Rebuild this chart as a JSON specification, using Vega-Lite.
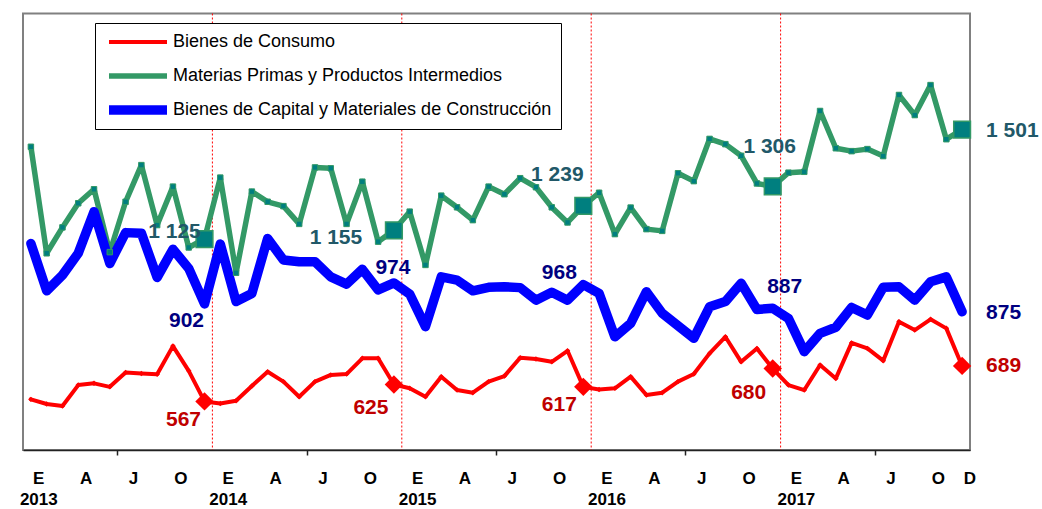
{
  "$schema": "https://vega.github.io/schema/vega-lite/v6.json",
  "width": 947,
  "height": 436.5,
  "autosize": "none",
  "padding": {"left": 23, "top": 13.5, "right": 72, "bottom": 59},
  "config": {
    "view": {"stroke": "#808080", "strokeWidth": 2},
    "locale": {"number": {"decimal": ",", "thousands": " ", "grouping": [3], "currency": ["$", ""]}}
  },
  "datasets": {
    "rows": [
      {"mes":"2013-01","serie":"Bienes de Consumo","valor":574},{"mes":"2013-02","serie":"Bienes de Consumo","valor":558},{"mes":"2013-03","serie":"Bienes de Consumo","valor":551},{"mes":"2013-04","serie":"Bienes de Consumo","valor":623},{"mes":"2013-05","serie":"Bienes de Consumo","valor":629},{"mes":"2013-06","serie":"Bienes de Consumo","valor":617},{"mes":"2013-07","serie":"Bienes de Consumo","valor":666},{"mes":"2013-08","serie":"Bienes de Consumo","valor":663},{"mes":"2013-09","serie":"Bienes de Consumo","valor":660},{"mes":"2013-10","serie":"Bienes de Consumo","valor":757},{"mes":"2013-11","serie":"Bienes de Consumo","valor":672},{"mes":"2013-12","serie":"Bienes de Consumo","valor":567},
      {"mes":"2014-01","serie":"Bienes de Consumo","valor":560},{"mes":"2014-02","serie":"Bienes de Consumo","valor":569},{"mes":"2014-03","serie":"Bienes de Consumo","valor":620},{"mes":"2014-04","serie":"Bienes de Consumo","valor":669},{"mes":"2014-05","serie":"Bienes de Consumo","valor":635},{"mes":"2014-06","serie":"Bienes de Consumo","valor":583},{"mes":"2014-07","serie":"Bienes de Consumo","valor":635},{"mes":"2014-08","serie":"Bienes de Consumo","valor":658},{"mes":"2014-09","serie":"Bienes de Consumo","valor":661},{"mes":"2014-10","serie":"Bienes de Consumo","valor":715},{"mes":"2014-11","serie":"Bienes de Consumo","valor":715},{"mes":"2014-12","serie":"Bienes de Consumo","valor":625},
      {"mes":"2015-01","serie":"Bienes de Consumo","valor":612},{"mes":"2015-02","serie":"Bienes de Consumo","valor":583},{"mes":"2015-03","serie":"Bienes de Consumo","valor":652},{"mes":"2015-04","serie":"Bienes de Consumo","valor":606},{"mes":"2015-05","serie":"Bienes de Consumo","valor":597},{"mes":"2015-06","serie":"Bienes de Consumo","valor":635},{"mes":"2015-07","serie":"Bienes de Consumo","valor":654},{"mes":"2015-08","serie":"Bienes de Consumo","valor":717},{"mes":"2015-09","serie":"Bienes de Consumo","valor":713},{"mes":"2015-10","serie":"Bienes de Consumo","valor":703},{"mes":"2015-11","serie":"Bienes de Consumo","valor":741},{"mes":"2015-12","serie":"Bienes de Consumo","valor":617},
      {"mes":"2016-01","serie":"Bienes de Consumo","valor":608},{"mes":"2016-02","serie":"Bienes de Consumo","valor":612},{"mes":"2016-03","serie":"Bienes de Consumo","valor":652},{"mes":"2016-04","serie":"Bienes de Consumo","valor":589},{"mes":"2016-05","serie":"Bienes de Consumo","valor":597},{"mes":"2016-06","serie":"Bienes de Consumo","valor":635},{"mes":"2016-07","serie":"Bienes de Consumo","valor":661},{"mes":"2016-08","serie":"Bienes de Consumo","valor":732},{"mes":"2016-09","serie":"Bienes de Consumo","valor":789},{"mes":"2016-10","serie":"Bienes de Consumo","valor":703},{"mes":"2016-11","serie":"Bienes de Consumo","valor":749},{"mes":"2016-12","serie":"Bienes de Consumo","valor":680},
      {"mes":"2017-01","serie":"Bienes de Consumo","valor":623},{"mes":"2017-02","serie":"Bienes de Consumo","valor":606},{"mes":"2017-03","serie":"Bienes de Consumo","valor":692},{"mes":"2017-04","serie":"Bienes de Consumo","valor":646},{"mes":"2017-05","serie":"Bienes de Consumo","valor":768},{"mes":"2017-06","serie":"Bienes de Consumo","valor":749},{"mes":"2017-07","serie":"Bienes de Consumo","valor":707},{"mes":"2017-08","serie":"Bienes de Consumo","valor":841},{"mes":"2017-09","serie":"Bienes de Consumo","valor":812},{"mes":"2017-10","serie":"Bienes de Consumo","valor":849},{"mes":"2017-11","serie":"Bienes de Consumo","valor":818},{"mes":"2017-12","serie":"Bienes de Consumo","valor":689},

      {"mes":"2013-01","serie":"Materias Primas y Productos Intermedios","valor":1442},{"mes":"2013-02","serie":"Materias Primas y Productos Intermedios","valor":1076},{"mes":"2013-03","serie":"Materias Primas y Productos Intermedios","valor":1165},{"mes":"2013-04","serie":"Materias Primas y Productos Intermedios","valor":1248},{"mes":"2013-05","serie":"Materias Primas y Productos Intermedios","valor":1296},{"mes":"2013-06","serie":"Materias Primas y Productos Intermedios","valor":1080},{"mes":"2013-07","serie":"Materias Primas y Productos Intermedios","valor":1253},{"mes":"2013-08","serie":"Materias Primas y Productos Intermedios","valor":1379},{"mes":"2013-09","serie":"Materias Primas y Productos Intermedios","valor":1173},{"mes":"2013-10","serie":"Materias Primas y Productos Intermedios","valor":1305},{"mes":"2013-11","serie":"Materias Primas y Productos Intermedios","valor":1096},{"mes":"2013-12","serie":"Materias Primas y Productos Intermedios","valor":1125},
      {"mes":"2014-01","serie":"Materias Primas y Productos Intermedios","valor":1336},{"mes":"2014-02","serie":"Materias Primas y Productos Intermedios","valor":1009},{"mes":"2014-03","serie":"Materias Primas y Productos Intermedios","valor":1288},{"mes":"2014-04","serie":"Materias Primas y Productos Intermedios","valor":1253},{"mes":"2014-05","serie":"Materias Primas y Productos Intermedios","valor":1238},{"mes":"2014-06","serie":"Materias Primas y Productos Intermedios","valor":1177},{"mes":"2014-07","serie":"Materias Primas y Productos Intermedios","valor":1371},{"mes":"2014-08","serie":"Materias Primas y Productos Intermedios","valor":1368},{"mes":"2014-09","serie":"Materias Primas y Productos Intermedios","valor":1177},{"mes":"2014-10","serie":"Materias Primas y Productos Intermedios","valor":1322},{"mes":"2014-11","serie":"Materias Primas y Productos Intermedios","valor":1116},{"mes":"2014-12","serie":"Materias Primas y Productos Intermedios","valor":1155},
      {"mes":"2015-01","serie":"Materias Primas y Productos Intermedios","valor":1219},{"mes":"2015-02","serie":"Materias Primas y Productos Intermedios","valor":1036},{"mes":"2015-03","serie":"Materias Primas y Productos Intermedios","valor":1274},{"mes":"2015-04","serie":"Materias Primas y Productos Intermedios","valor":1234},{"mes":"2015-05","serie":"Materias Primas y Productos Intermedios","valor":1190},{"mes":"2015-06","serie":"Materias Primas y Productos Intermedios","valor":1305},{"mes":"2015-07","serie":"Materias Primas y Productos Intermedios","valor":1279},{"mes":"2015-08","serie":"Materias Primas y Productos Intermedios","valor":1334},{"mes":"2015-09","serie":"Materias Primas y Productos Intermedios","valor":1303},{"mes":"2015-10","serie":"Materias Primas y Productos Intermedios","valor":1234},{"mes":"2015-11","serie":"Materias Primas y Productos Intermedios","valor":1182},{"mes":"2015-12","serie":"Materias Primas y Productos Intermedios","valor":1239},
      {"mes":"2016-01","serie":"Materias Primas y Productos Intermedios","valor":1284},{"mes":"2016-02","serie":"Materias Primas y Productos Intermedios","valor":1142},{"mes":"2016-03","serie":"Materias Primas y Productos Intermedios","valor":1233},{"mes":"2016-04","serie":"Materias Primas y Productos Intermedios","valor":1159},{"mes":"2016-05","serie":"Materias Primas y Productos Intermedios","valor":1153},{"mes":"2016-06","serie":"Materias Primas y Productos Intermedios","valor":1351},{"mes":"2016-07","serie":"Materias Primas y Productos Intermedios","valor":1324},{"mes":"2016-08","serie":"Materias Primas y Productos Intermedios","valor":1469},{"mes":"2016-09","serie":"Materias Primas y Productos Intermedios","valor":1451},{"mes":"2016-10","serie":"Materias Primas y Productos Intermedios","valor":1411},{"mes":"2016-11","serie":"Materias Primas y Productos Intermedios","valor":1316},{"mes":"2016-12","serie":"Materias Primas y Productos Intermedios","valor":1306},
      {"mes":"2017-01","serie":"Materias Primas y Productos Intermedios","valor":1353},{"mes":"2017-02","serie":"Materias Primas y Productos Intermedios","valor":1356},{"mes":"2017-03","serie":"Materias Primas y Productos Intermedios","valor":1565},{"mes":"2017-04","serie":"Materias Primas y Productos Intermedios","valor":1437},{"mes":"2017-05","serie":"Materias Primas y Productos Intermedios","valor":1427},{"mes":"2017-06","serie":"Materias Primas y Productos Intermedios","valor":1434},{"mes":"2017-07","serie":"Materias Primas y Productos Intermedios","valor":1410},{"mes":"2017-08","serie":"Materias Primas y Productos Intermedios","valor":1620},{"mes":"2017-09","serie":"Materias Primas y Productos Intermedios","valor":1551},{"mes":"2017-10","serie":"Materias Primas y Productos Intermedios","valor":1654},{"mes":"2017-11","serie":"Materias Primas y Productos Intermedios","valor":1468},{"mes":"2017-12","serie":"Materias Primas y Productos Intermedios","valor":1501},

      {"mes":"2013-01","serie":"Bienes de Capital y Materiales de Construcción","valor":1110},{"mes":"2013-02","serie":"Bienes de Capital y Materiales de Construcción","valor":947},{"mes":"2013-03","serie":"Bienes de Capital y Materiales de Construcción","valor":1001},{"mes":"2013-04","serie":"Bienes de Capital y Materiales de Construcción","valor":1076},{"mes":"2013-05","serie":"Bienes de Capital y Materiales de Construcción","valor":1219},{"mes":"2013-06","serie":"Bienes de Capital y Materiales de Construcción","valor":1041},{"mes":"2013-07","serie":"Bienes de Capital y Materiales de Construcción","valor":1147},{"mes":"2013-08","serie":"Bienes de Capital y Materiales de Construcción","valor":1145},{"mes":"2013-09","serie":"Bienes de Capital y Materiales de Construcción","valor":993},{"mes":"2013-10","serie":"Bienes de Capital y Materiales de Construcción","valor":1090},{"mes":"2013-11","serie":"Bienes de Capital y Materiales de Construcción","valor":1024},{"mes":"2013-12","serie":"Bienes de Capital y Materiales de Construcción","valor":902},
      {"mes":"2014-01","serie":"Bienes de Capital y Materiales de Construcción","valor":1108},{"mes":"2014-02","serie":"Bienes de Capital y Materiales de Construcción","valor":910},{"mes":"2014-03","serie":"Bienes de Capital y Materiales de Construcción","valor":938},{"mes":"2014-04","serie":"Bienes de Capital y Materiales de Construcción","valor":1127},{"mes":"2014-05","serie":"Bienes de Capital y Materiales de Construcción","valor":1053},{"mes":"2014-06","serie":"Bienes de Capital y Materiales de Construcción","valor":1047},{"mes":"2014-07","serie":"Bienes de Capital y Materiales de Construcción","valor":1047},{"mes":"2014-08","serie":"Bienes de Capital y Materiales de Construcción","valor":995},{"mes":"2014-09","serie":"Bienes de Capital y Materiales de Construcción","valor":970},{"mes":"2014-10","serie":"Bienes de Capital y Materiales de Construcción","valor":1021},{"mes":"2014-11","serie":"Bienes de Capital y Materiales de Construcción","valor":950},{"mes":"2014-12","serie":"Bienes de Capital y Materiales de Construcción","valor":974},
      {"mes":"2015-01","serie":"Bienes de Capital y Materiales de Construcción","valor":936},{"mes":"2015-02","serie":"Bienes de Capital y Materiales de Construcción","valor":824},{"mes":"2015-03","serie":"Bienes de Capital y Materiales de Construcción","valor":995},{"mes":"2015-04","serie":"Bienes de Capital y Materiales de Construcción","valor":984},{"mes":"2015-05","serie":"Bienes de Capital y Materiales de Construcción","valor":947},{"mes":"2015-06","serie":"Bienes de Capital y Materiales de Construcción","valor":959},{"mes":"2015-07","serie":"Bienes de Capital y Materiales de Construcción","valor":961},{"mes":"2015-08","serie":"Bienes de Capital y Materiales de Construcción","valor":958},{"mes":"2015-09","serie":"Bienes de Capital y Materiales de Construcción","valor":915},{"mes":"2015-10","serie":"Bienes de Capital y Materiales de Construcción","valor":942},{"mes":"2015-11","serie":"Bienes de Capital y Materiales de Construcción","valor":915},{"mes":"2015-12","serie":"Bienes de Capital y Materiales de Construcción","valor":968},
      {"mes":"2016-01","serie":"Bienes de Capital y Materiales de Construcción","valor":938},{"mes":"2016-02","serie":"Bienes de Capital y Materiales de Construcción","valor":789},{"mes":"2016-03","serie":"Bienes de Capital y Materiales de Construcción","valor":835},{"mes":"2016-04","serie":"Bienes de Capital y Materiales de Construcción","valor":944},{"mes":"2016-05","serie":"Bienes de Capital y Materiales de Construcción","valor":870},{"mes":"2016-06","serie":"Bienes de Capital y Materiales de Construcción","valor":827},{"mes":"2016-07","serie":"Bienes de Capital y Materiales de Construcción","valor":784},{"mes":"2016-08","serie":"Bienes de Capital y Materiales de Construcción","valor":892},{"mes":"2016-09","serie":"Bienes de Capital y Materiales de Construcción","valor":910},{"mes":"2016-10","serie":"Bienes de Capital y Materiales de Construcción","valor":973},{"mes":"2016-11","serie":"Bienes de Capital y Materiales de Construcción","valor":883},{"mes":"2016-12","serie":"Bienes de Capital y Materiales de Construcción","valor":887},
      {"mes":"2017-01","serie":"Bienes de Capital y Materiales de Construcción","valor":852},{"mes":"2017-02","serie":"Bienes de Capital y Materiales de Construcción","valor":738},{"mes":"2017-03","serie":"Bienes de Capital y Materiales de Construcción","valor":801},{"mes":"2017-04","serie":"Bienes de Capital y Materiales de Construcción","valor":822},{"mes":"2017-05","serie":"Bienes de Capital y Materiales de Construcción","valor":890},{"mes":"2017-06","serie":"Bienes de Capital y Materiales de Construcción","valor":864},{"mes":"2017-07","serie":"Bienes de Capital y Materiales de Construcción","valor":959},{"mes":"2017-08","serie":"Bienes de Capital y Materiales de Construcción","valor":961},{"mes":"2017-09","serie":"Bienes de Capital y Materiales de Construcción","valor":915},{"mes":"2017-10","serie":"Bienes de Capital y Materiales de Construcción","valor":978},{"mes":"2017-11","serie":"Bienes de Capital y Materiales de Construcción","valor":995},{"mes":"2017-12","serie":"Bienes de Capital y Materiales de Construcción","valor":875}
    ],
    "anios": [{"mes":"2014-01"},{"mes":"2015-01"},{"mes":"2016-01"},{"mes":"2017-01"}]
  },
  "data": {"name": "rows"},
  "encoding": {
    "x": {
      "field": "mes", "type": "ordinal",
      "scale": {"type": "band", "paddingInner": 0, "paddingOuter": 0},
      "axis": {
        "title": null,
        "values": ["2013-01","2013-04","2013-07","2013-10","2014-01","2014-04","2014-07","2014-10","2015-01","2015-04","2015-07","2015-10","2016-01","2016-04","2016-07","2016-10","2017-01","2017-04","2017-07","2017-10","2017-12"],
        "labelExpr": "substring(datum.value,5,7)=='01' ? ['E', substring(datum.value,0,4)] : substring(datum.value,5,7)=='04' ? 'A' : substring(datum.value,5,7)=='07' ? 'J' : substring(datum.value,5,7)=='10' ? 'O' : 'D'",
        "bandPosition": 0,
        "labelOffset": 7.9,
        "labelAngle": 0,
        "labelOverlap": false,
        "labelFont": "Liberation Sans",
        "labelFontWeight": "bold",
        "labelFontSize": 17,
        "labelColor": "black",
        "labelBaseline": "top",
        "labelPadding": 15,
        "labelLineHeight": 21.6,
        "domainColor": "#222222",
        "domainWidth": 1.5,
        "tickColor": "#222222",
        "tickWidth": 1.5,
        "tickSize": 5,
        "tickOpacity": {"condition": {"test": "substring(datum.value,5,7)=='07'", "value": 1}, "value": 0}
      }
    }
  },
  "layer": [
    {
      "data": {"name": "anios"},
      "mark": {"type": "rule", "color": "#FF0000", "strokeWidth": 1, "strokeDash": [2, 2]},
      "encoding": {"x": {"field": "mes", "type": "ordinal", "bandPosition": 0}}
    },
    {
      "mark": {"type": "line", "strokeCap": "round", "strokeJoin": "round"},
      "encoding": {
        "y": {"field": "valor", "type": "quantitative", "scale": {"domain": [400, 1900]}, "axis": null},
        "color": {
          "field": "serie", "type": "nominal",
          "scale": {"domain": ["Bienes de Consumo", "Materias Primas y Productos Intermedios", "Bienes de Capital y Materiales de Construcción"], "range": ["#FF0000", "#339966", "#0000FF"]},
          "legend": {"title": null, "orient": "none", "legendX": 72, "legendY": 9.5, "direction": "vertical", "fillColor": "white", "strokeColor": "black", "padding": 9, "symbolType": "stroke", "symbolSize": 3364, "labelFont": "Liberation Sans", "labelFontSize": 18, "labelColor": "black", "labelOffset": 1, "rowPadding": 14, "clipHeight": 20, "labelLimit": 600}
        },
        "strokeWidth": {
          "field": "serie", "type": "ordinal",
          "scale": {"type": "ordinal", "domain": ["Bienes de Consumo", "Materias Primas y Productos Intermedios", "Bienes de Capital y Materiales de Construcción"], "range": [4, 5.5, 9.5]},
          "legend": {"title": null, "orient": "none", "legendX": 72, "legendY": 9.5, "direction": "vertical", "fillColor": "white", "strokeColor": "black", "padding": 9, "symbolType": "stroke", "symbolSize": 3364, "labelFont": "Liberation Sans", "labelFontSize": 18, "labelColor": "black", "labelOffset": 1, "rowPadding": 14, "clipHeight": 20, "labelLimit": 600}
        }
      }
    },
    {
      "transform": [{"filter": "datum.serie=='Materias Primas y Productos Intermedios'"}],
      "mark": {"type": "point", "shape": "square", "filled": true, "fill": "#007F7F", "stroke": "#339966", "strokeWidth": 1, "size": 30, "opacity": 1},
      "encoding": {"y": {"field": "valor", "type": "quantitative", "scale": {"domain": [400, 1900]}, "axis": null}}
    },
    {
      "transform": [{"filter": "datum.serie=='Bienes de Consumo'"}],
      "mark": {"type": "point", "shape": "diamond", "filled": true, "fill": "#FF0000", "size": 30, "opacity": 1},
      "encoding": {"y": {"field": "valor", "type": "quantitative", "scale": {"domain": [400, 1900]}, "axis": null}}
    },
    {
      "transform": [{"filter": "datum.serie=='Materias Primas y Productos Intermedios' && substring(datum.mes,5,7)=='12'"}],
      "mark": {"type": "point", "shape": "square", "filled": true, "fill": "#007F7F", "stroke": "#339966", "strokeWidth": 1.5, "size": 280, "opacity": 1},
      "encoding": {"y": {"field": "valor", "type": "quantitative", "scale": {"domain": [400, 1900]}, "axis": null}}
    },
    {
      "transform": [{"filter": "datum.serie=='Bienes de Consumo' && substring(datum.mes,5,7)=='12'"}],
      "mark": {"type": "point", "shape": "diamond", "filled": true, "fill": "#FF0000", "size": 340, "opacity": 1},
      "encoding": {"y": {"field": "valor", "type": "quantitative", "scale": {"domain": [400, 1900]}, "axis": null}}
    },
    {
      "transform": [{"filter": "datum.serie=='Bienes de Consumo' && datum.mes=='2013-12'"}],
      "mark": {"type": "text", "font": "Liberation Sans", "fontWeight": "bold", "fontSize": 21, "fill": "#C00000", "align": "center", "baseline": "middle", "dx": -21, "dy": 19},
      "encoding": {"y": {"field": "valor", "type": "quantitative", "scale": {"domain": [400, 1900]}, "axis": null}, "text": {"field": "valor", "type": "quantitative", "format": ",d"}}
    },
    {
      "transform": [{"filter": "datum.serie=='Bienes de Consumo' && datum.mes=='2014-12'"}],
      "mark": {"type": "text", "font": "Liberation Sans", "fontWeight": "bold", "fontSize": 21, "fill": "#C00000", "align": "center", "baseline": "middle", "dx": -23, "dy": 23},
      "encoding": {"y": {"field": "valor", "type": "quantitative", "scale": {"domain": [400, 1900]}, "axis": null}, "text": {"field": "valor", "type": "quantitative", "format": ",d"}}
    },
    {
      "transform": [{"filter": "datum.serie=='Bienes de Consumo' && datum.mes=='2015-12'"}],
      "mark": {"type": "text", "font": "Liberation Sans", "fontWeight": "bold", "fontSize": 21, "fill": "#C00000", "align": "center", "baseline": "middle", "dx": -24, "dy": 18},
      "encoding": {"y": {"field": "valor", "type": "quantitative", "scale": {"domain": [400, 1900]}, "axis": null}, "text": {"field": "valor", "type": "quantitative", "format": ",d"}}
    },
    {
      "transform": [{"filter": "datum.serie=='Bienes de Consumo' && datum.mes=='2016-12'"}],
      "mark": {"type": "text", "font": "Liberation Sans", "fontWeight": "bold", "fontSize": 21, "fill": "#C00000", "align": "center", "baseline": "middle", "dx": -24, "dy": 24},
      "encoding": {"y": {"field": "valor", "type": "quantitative", "scale": {"domain": [400, 1900]}, "axis": null}, "text": {"field": "valor", "type": "quantitative", "format": ",d"}}
    },
    {
      "transform": [{"filter": "datum.serie=='Bienes de Consumo' && datum.mes=='2017-12'"}],
      "mark": {"type": "text", "font": "Liberation Sans", "fontWeight": "bold", "fontSize": 21, "fill": "#C00000", "align": "left", "baseline": "middle", "dx": 24, "dy": 0},
      "encoding": {"y": {"field": "valor", "type": "quantitative", "scale": {"domain": [400, 1900]}, "axis": null}, "text": {"field": "valor", "type": "quantitative", "format": ",d"}}
    },
    {
      "transform": [{"filter": "datum.serie=='Bienes de Capital y Materiales de Construcción' && datum.mes=='2013-12'"}],
      "mark": {"type": "text", "font": "Liberation Sans", "fontWeight": "bold", "fontSize": 21, "fill": "#000080", "align": "center", "baseline": "middle", "dx": -18, "dy": 17},
      "encoding": {"y": {"field": "valor", "type": "quantitative", "scale": {"domain": [400, 1900]}, "axis": null}, "text": {"field": "valor", "type": "quantitative", "format": ",d"}}
    },
    {
      "transform": [{"filter": "datum.serie=='Bienes de Capital y Materiales de Construcción' && datum.mes=='2014-12'"}],
      "mark": {"type": "text", "font": "Liberation Sans", "fontWeight": "bold", "fontSize": 21, "fill": "#000080", "align": "center", "baseline": "middle", "dx": -1, "dy": -15},
      "encoding": {"y": {"field": "valor", "type": "quantitative", "scale": {"domain": [400, 1900]}, "axis": null}, "text": {"field": "valor", "type": "quantitative", "format": ",d"}}
    },
    {
      "transform": [{"filter": "datum.serie=='Bienes de Capital y Materiales de Construcción' && datum.mes=='2015-12'"}],
      "mark": {"type": "text", "font": "Liberation Sans", "fontWeight": "bold", "fontSize": 21, "fill": "#000080", "align": "center", "baseline": "middle", "dx": -24, "dy": -12},
      "encoding": {"y": {"field": "valor", "type": "quantitative", "scale": {"domain": [400, 1900]}, "axis": null}, "text": {"field": "valor", "type": "quantitative", "format": ",d"}}
    },
    {
      "transform": [{"filter": "datum.serie=='Bienes de Capital y Materiales de Construcción' && datum.mes=='2016-12'"}],
      "mark": {"type": "text", "font": "Liberation Sans", "fontWeight": "bold", "fontSize": 21, "fill": "#000080", "align": "center", "baseline": "middle", "dx": 12, "dy": -21},
      "encoding": {"y": {"field": "valor", "type": "quantitative", "scale": {"domain": [400, 1900]}, "axis": null}, "text": {"field": "valor", "type": "quantitative", "format": ",d"}}
    },
    {
      "transform": [{"filter": "datum.serie=='Bienes de Capital y Materiales de Construcción' && datum.mes=='2017-12'"}],
      "mark": {"type": "text", "font": "Liberation Sans", "fontWeight": "bold", "fontSize": 21, "fill": "#000080", "align": "left", "baseline": "middle", "dx": 24, "dy": 1},
      "encoding": {"y": {"field": "valor", "type": "quantitative", "scale": {"domain": [400, 1900]}, "axis": null}, "text": {"field": "valor", "type": "quantitative", "format": ",d"}}
    },
    {
      "transform": [{"filter": "datum.serie=='Materias Primas y Productos Intermedios' && datum.mes=='2013-12'"}],
      "mark": {"type": "text", "font": "Liberation Sans", "fontWeight": "bold", "fontSize": 21, "fill": "#215868", "align": "center", "baseline": "middle", "dx": -30, "dy": -7},
      "encoding": {"y": {"field": "valor", "type": "quantitative", "scale": {"domain": [400, 1900]}, "axis": null}, "text": {"field": "valor", "type": "quantitative", "format": ",d"}}
    },
    {
      "transform": [{"filter": "datum.serie=='Materias Primas y Productos Intermedios' && datum.mes=='2014-12'"}],
      "mark": {"type": "text", "font": "Liberation Sans", "fontWeight": "bold", "fontSize": 21, "fill": "#215868", "align": "center", "baseline": "middle", "dx": -58, "dy": 8},
      "encoding": {"y": {"field": "valor", "type": "quantitative", "scale": {"domain": [400, 1900]}, "axis": null}, "text": {"field": "valor", "type": "quantitative", "format": ",d"}}
    },
    {
      "transform": [{"filter": "datum.serie=='Materias Primas y Productos Intermedios' && datum.mes=='2015-12'"}],
      "mark": {"type": "text", "font": "Liberation Sans", "fontWeight": "bold", "fontSize": 21, "fill": "#215868", "align": "center", "baseline": "middle", "dx": -26, "dy": -31},
      "encoding": {"y": {"field": "valor", "type": "quantitative", "scale": {"domain": [400, 1900]}, "axis": null}, "text": {"field": "valor", "type": "quantitative", "format": ",d"}}
    },
    {
      "transform": [{"filter": "datum.serie=='Materias Primas y Productos Intermedios' && datum.mes=='2016-12'"}],
      "mark": {"type": "text", "font": "Liberation Sans", "fontWeight": "bold", "fontSize": 21, "fill": "#215868", "align": "center", "baseline": "middle", "dx": -3, "dy": -39},
      "encoding": {"y": {"field": "valor", "type": "quantitative", "scale": {"domain": [400, 1900]}, "axis": null}, "text": {"field": "valor", "type": "quantitative", "format": ",d"}}
    },
    {
      "transform": [{"filter": "datum.serie=='Materias Primas y Productos Intermedios' && datum.mes=='2017-12'"}],
      "mark": {"type": "text", "font": "Liberation Sans", "fontWeight": "bold", "fontSize": 21, "fill": "#215868", "align": "left", "baseline": "middle", "dx": 24, "dy": 1},
      "encoding": {"y": {"field": "valor", "type": "quantitative", "scale": {"domain": [400, 1900]}, "axis": null}, "text": {"field": "valor", "type": "quantitative", "format": ",d"}}
    }
  ]
}
